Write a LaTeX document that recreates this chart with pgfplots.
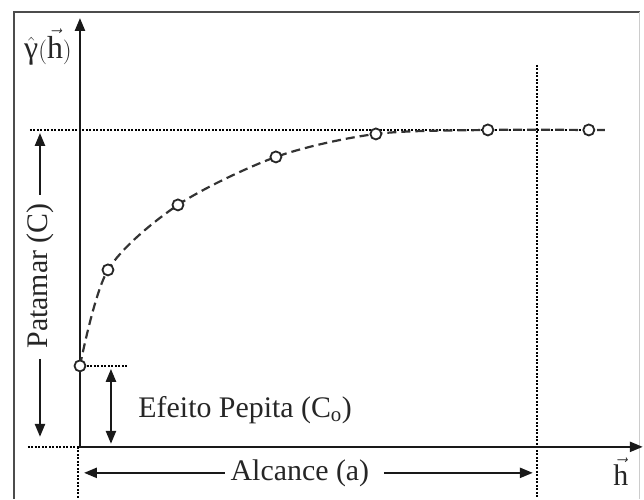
\documentclass[border=0pt]{standalone}
\usepackage{amsmath}
\usepackage{fontspec}
\setmainfont{Liberation Serif}
\usepackage{pgfplots}
\pgfplotsset{compat=1.18}
\usepackage{pgfplotstable}
\usetikzlibrary{arrows.meta}

% semivariograma experimental (h, gamma)
\pgfplotstableread{
h g
0 81
28 177
98 242
196 290
296 313
408 317
509 317
}\pontos

\pgfplotstableread{
h g
0 81
28 177
98 242
196 290
296 313
408 317
509 317
525 317
}\curva

\begin{document}
\begin{tikzpicture}[font=\fontsize{30}{34}\selectfont, >={Triangle[length=13bp,width=10bp]}]
\begin{axis}[
  x=1bp, y=1bp,
  xmin=-80, xmax=564, ymin=-52, ymax=447,
  hide axis, clip=false,
]
% area total da figura
\path (axis cs:-80,-52) rectangle (axis cs:564,447);

% moldura
\draw[black!70, line width=2.2bp] (axis cs:-66,-52) -- (axis cs:-66,435) -- (axis cs:560,435);
\draw[black!20, line width=1bp] (axis cs:560,435) -- (axis cs:560,-52);

% linhas pontilhadas
\tikzset{pont/.style={black, line width=2.2bp, dash pattern=on 2bp off 1.5bp}}
\draw[pont] (axis cs:-50,317) -- (axis cs:525,317);
\draw[pont] (axis cs:457,382) -- (axis cs:457,-52);
\draw[pont] (axis cs:-52,0) -- (axis cs:0,0);
\draw[pont] (axis cs:-2,0) -- (axis cs:-2,-52);
\draw[pont] (axis cs:0,81) -- (axis cs:48,81);

% eixos
\draw[->, black!90, line width=2.4bp] (axis cs:0,0) -- (axis cs:0,429);
\draw[->, black!90, line width=2.4bp] (axis cs:-1,0) -- (axis cs:563,0);

% curva
\addplot[smooth, tension=0.5, black!80, line width=2.2bp, dash pattern=on 9bp off 5bp] table[x=h, y=g] {\curva};
\addplot[only marks, mark=*, mark size=5.5bp, mark options={fill=white, draw=black!85, line width=1.8bp}] table[x=h, y=g] {\pontos};

% patamar
\node[rotate=90, text=black!85] at (axis cs:-40,171) {Patamar (C)};
\draw[->, black!90, line width=2.4bp] (axis cs:-40,252) -- (axis cs:-40,314);
\draw[->, black!90, line width=2.4bp] (axis cs:-40,88) -- (axis cs:-40,10);

% efeito pepita
\draw[<->, black!90, line width=2.4bp] (axis cs:31,78) -- (axis cs:31,3);
\node[anchor=base west, text=black!85] at (axis cs:55,29) {Efeito Pepita (C\textsubscript{o})};

% alcance
\node[text=black!85] at (axis cs:220,-26) {Alcance (a)};
\draw[->, black!90, line width=2.4bp] (axis cs:145,-26) -- (axis cs:4,-26);
\draw[->, black!90, line width=2.4bp] (axis cs:304,-26) -- (axis cs:453,-26);

% rotulos dos eixos
\node[text=black!85] at (axis cs:541,-25) {$\vec{\text{h}}$};
\node[text=black!85, inner sep=0pt, font=\fontsize{32}{36}\selectfont] at (axis cs:-32,400) {$\hat{\text{γ}}(\vec{\text{h}})$};
\end{axis}
\end{tikzpicture}
\end{document}
